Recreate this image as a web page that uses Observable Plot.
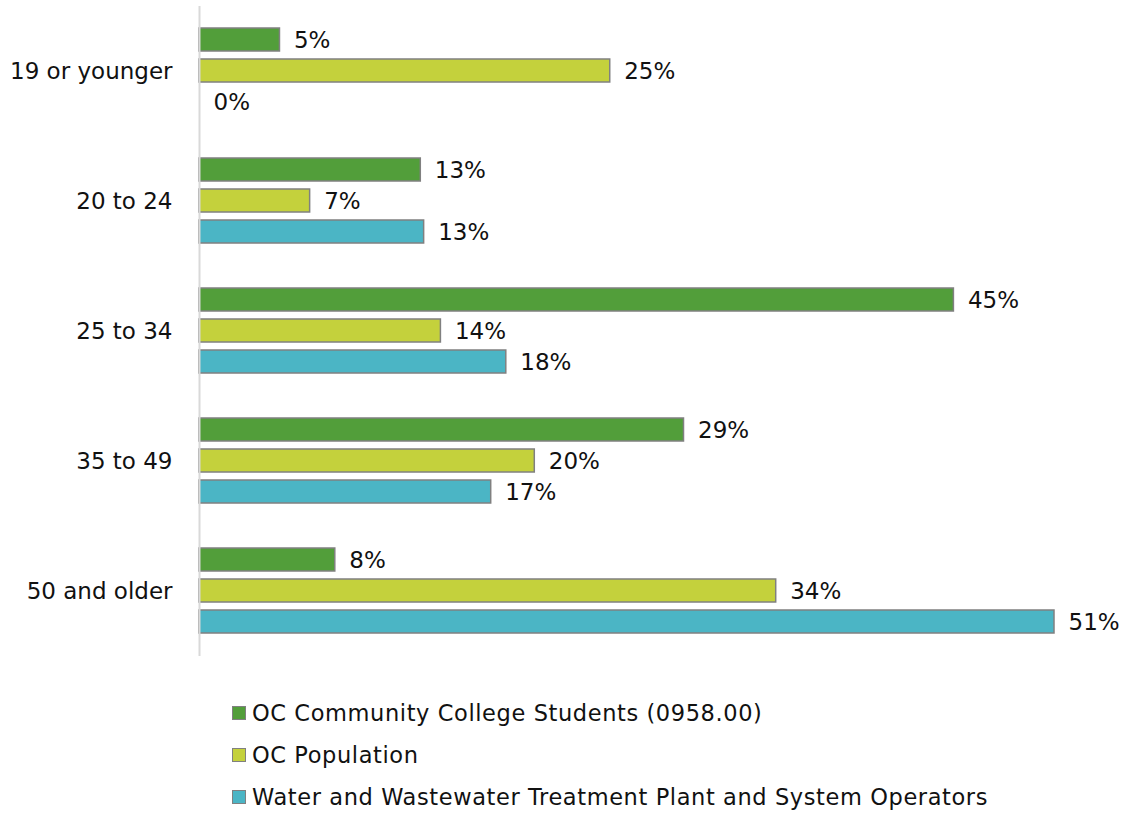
<!DOCTYPE html>
<html>
<head>
<meta charset="utf-8">
<script src="https://cdn.jsdelivr.net/npm/d3@7"></script>
<script src="https://cdn.jsdelivr.net/npm/@observablehq/plot@0.6"></script>
<style>
  body { margin: 0; background: #fff; font-family: "DejaVu Sans", sans-serif; }
  #legend { margin-top: 22px; padding-left: 232px; }
  .item { height: 42px; display: flex; align-items: center; font-size: 22.5px; letter-spacing: 0.6px; color: #111; }
  .sw { width: 12px; height: 12px; border: 1.5px solid #808080; margin-right: 6px; }
</style>
</head>
<body>
<div id="chart"></div>
<div id="legend"></div>
<script>
const ageGroups = ["19 or younger", "20 to 24", "25 to 34", "35 to 49", "50 and older"];
const seriesNames = [
  "OC Community College Students (0958.00)",
  "OC Population",
  "Water and Wastewater Treatment Plant and System Operators"
];
const seriesColors = ["#529E3A", "#C4D13C", "#4BB5C5"];
const students   = [4.8, 13.2, 45.0, 28.9, 8.1];
const population = [24.5, 6.6, 14.4, 20.0, 34.4];
const operators  = [0.0, 13.4, 18.3, 17.4, 51.0];

const seriesValues = [students, population, operators];
const data = [];
ageGroups.forEach((g, i) => {
  seriesNames.forEach((s, j) => {
    data.push({group: g, series: s, value: seriesValues[j][i]});
  });
});

const chart = Plot.plot({
  width: 1133,
  height: 670,
  marginLeft: 199,
  marginRight: 79,
  marginTop: 5,
  marginBottom: 13,
  style: {fontFamily: "DejaVu Sans, sans-serif", fontSize: "23px", color: "#111"},
  x: {domain: [0, 51], axis: null},
  y: {domain: seriesNames, axis: null, paddingInner: 0.25, paddingOuter: 0.664},
  fy: {domain: ageGroups, padding: 0, label: null, tickSize: 0, tickPadding: 27},
  color: {domain: seriesNames, range: seriesColors},
  marks: [
    Plot.axisFy({anchor: "left", tickSize: 0, tickPadding: 27, label: null, fontSize: 23}),
    Plot.barX(data, {fy: "group", y: "series", x: "value", fill: "series", stroke: "#808080", strokeWidth: 1.5}),
    Plot.ruleX([0], {stroke: "#d9d9d9", strokeWidth: 2}),
    Plot.text(data, {fy: "group", y: "series", x: "value", text: d => Math.round(d.value) + "%", textAnchor: "start", dx: 14, dy: 1, fontSize: 23, fill: "#111", style: "letter-spacing: 2px"})
  ]
});
document.getElementById("chart").appendChild(chart);

const legend = document.getElementById("legend");
seriesNames.forEach((s, j) => {
  const item = document.createElement("div");
  item.className = "item";
  const sw = document.createElement("span");
  sw.className = "sw";
  sw.style.background = seriesColors[j];
  item.appendChild(sw);
  item.appendChild(document.createTextNode(s));
  legend.appendChild(item);
});
</script>
</body>
</html>
